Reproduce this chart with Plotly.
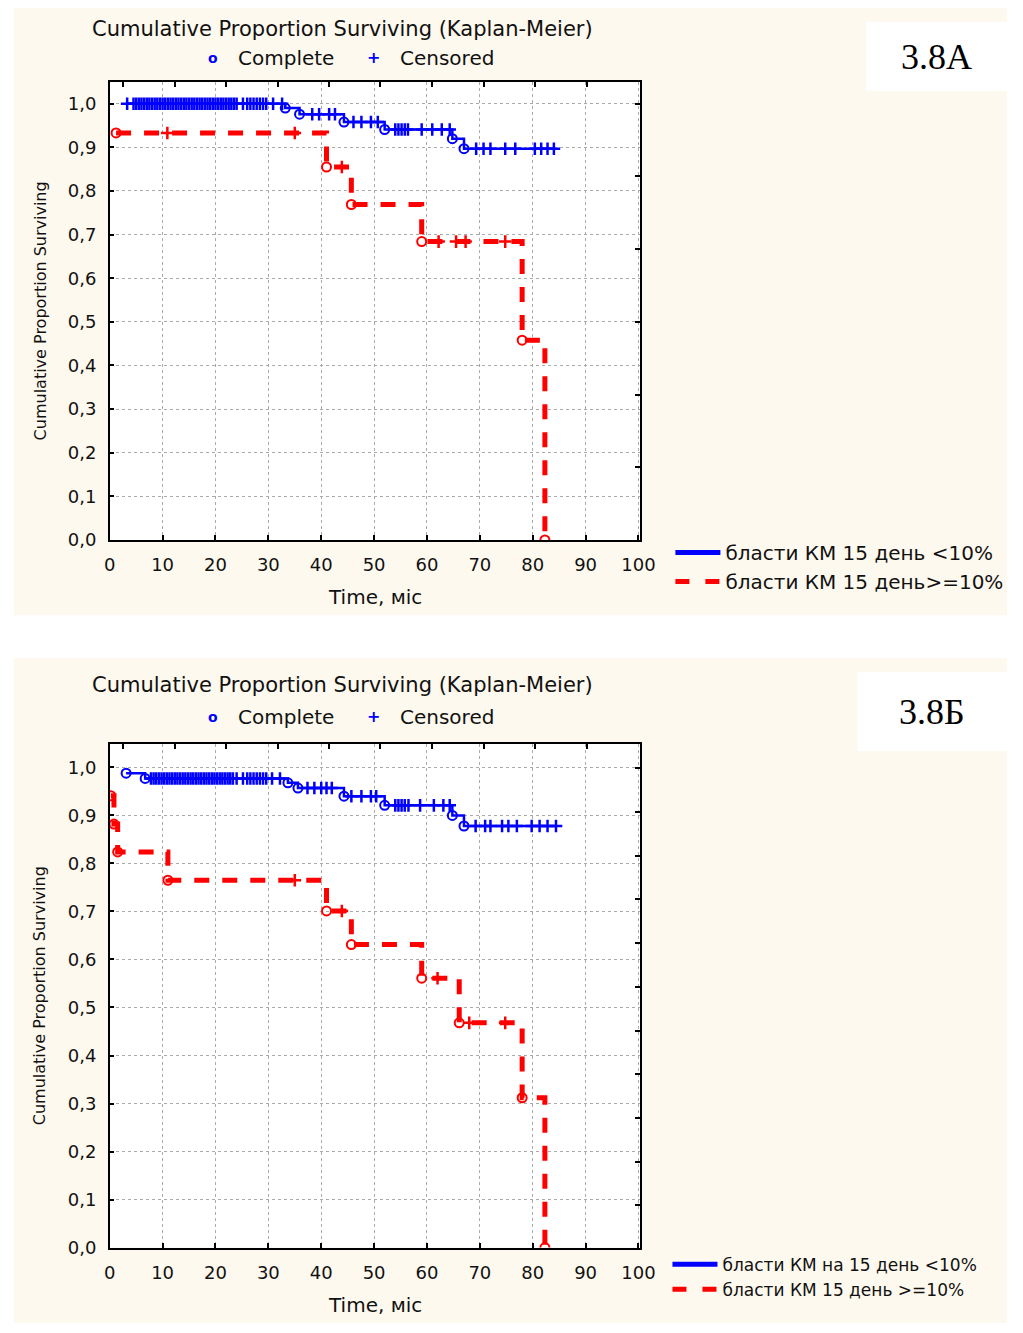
import plotly.graph_objects as go

# ---------------- Panel 3.8A ----------------
# group "бласти КМ 15 день <10%"
a_lo_first_t, a_lo_first_s = 3.2, 1.0
a_lo_event_t = [33.2, 35.9, 44.3, 52.0, 64.8, 67.0]
a_lo_event_s = [0.990, 0.976, 0.958, 0.941, 0.920, 0.897]
a_lo_cens_t = [3.3, 4.5, 5.0, 5.5, 6.0, 6.5, 7.0, 7.5, 8.0, 8.5, 9.0, 9.5, 10.0, 10.5,
               11.0, 11.5, 12.0, 12.5, 13.0, 13.5, 14.0, 14.5, 15.0, 15.5, 16.0, 16.5,
               17.0, 17.5, 18.0, 18.5, 19.0, 19.5, 20.0, 20.5, 21.0, 21.5, 22.0, 22.5,
               23.0, 23.5, 24.0, 25.2, 26.0, 26.6, 27.2, 27.8, 28.4, 29.0, 29.6, 30.9,
               32.6, 38.3, 39.6, 41.5, 42.6, 46.1, 47.6, 49.4, 50.7, 54.0, 54.6, 55.2,
               55.8, 56.4, 59.0, 61.0, 62.8, 64.3, 69.3, 70.7, 72.0, 74.8, 76.7, 80.4,
               81.6, 82.8, 84.0]
a_lo_end_t = 84.0

# group "бласти КМ 15 день>=10%"
a_hi_first_t, a_hi_first_s = 1.2, 0.933
a_hi_event_t = [1.2, 41.0, 45.7, 59.0, 78.0, 82.3]
a_hi_event_s = [0.933, 0.855, 0.769, 0.684, 0.458, 0.0]
a_hi_cens_t = [10.9, 35.0, 43.9, 62.2, 65.5, 67.3, 74.8]
a_hi_end_t = 82.3

# ---------------- Panel 3.8Б ----------------
b_lo_first_t, b_lo_first_s = 3.1, 0.988
b_lo_event_t = [3.1, 6.7, 33.7, 35.6, 44.3, 52.0, 64.8, 67.0]
b_lo_event_s = [0.988, 0.977, 0.968, 0.957, 0.940, 0.921, 0.900, 0.878]
b_lo_cens_t = [7.8, 8.3, 8.8, 9.3, 9.8, 10.3, 10.8, 11.3, 11.8, 12.3, 12.8, 13.3, 13.8,
               14.3, 14.8, 15.3, 15.8, 16.3, 16.8, 17.3, 17.8, 18.3, 18.8, 19.3, 19.8,
               20.3, 20.8, 21.3, 21.8, 22.3, 22.8, 23.3, 24.0, 25.2, 26.0, 26.6, 27.2,
               27.8, 28.4, 29.0, 29.6, 30.7, 32.2, 37.4, 38.7, 40.0, 41.0, 42.0, 45.7,
               47.6, 49.4, 50.4, 54.0, 54.6, 55.2, 55.8, 56.5, 58.7, 61.3, 63.1, 64.3,
               69.2, 71.0, 72.0, 74.2, 75.4, 77.0, 79.8, 81.3, 82.8, 84.4]
b_lo_end_t = 84.4

b_hi_first_t, b_hi_first_s = 0.2, 0.941
b_hi_event_t = [0.2, 0.8, 1.5, 11.0, 41.0, 45.7, 59.0, 66.1, 78.0, 82.3]
b_hi_event_s = [0.941, 0.882, 0.824, 0.765, 0.701, 0.631, 0.561, 0.468, 0.312, 0.0]
b_hi_cens_t = [35.0, 43.9, 62.0, 68.0, 74.8]
b_hi_end_t = 82.3

# axis ticks
x_ticks = [0, 10, 20, 30, 40, 50, 60, 70, 80, 90, 100]
y_ticks = [0.0, 0.1, 0.2, 0.3, 0.4, 0.5, 0.6, 0.7, 0.8, 0.9, 1.0]
top_minor_ticks = [2.6, 12.3, 22.0, 31.8, 41.5, 51.2, 61.0, 70.7, 80.4, 90.2]
right_minor_a = [1 / 6, 2 / 6, 3 / 6, 4 / 6, 5 / 6, 1.0]
right_minor_b = [0.089, 0.179, 0.270, 0.361, 0.452, 0.543, 0.634, 0.725, 0.816, 0.907, 0.998]

legend_a = ["бласти КМ 15 день <10%", "бласти КМ 15 день>=10%"]
legend_b = ["бласти КМ на 15 день <10%", "бласти КМ 15 день >=10%"]
panel_labels = ["3.8A", "3.8Б"]
chart_title = "Cumulative Proportion Surviving (Kaplan-Meier)"
x_title = "Time, міс"
y_title = "Cumulative Proportion Surviving"

BLUE = "#0000ff"
RED = "#ff0000"
CREAM = "#fef9ee"
FONT = "DejaVu Sans"
TXT = "#111111"
W, H = 1023, 1333


def level_at(t, first_s, ev_t, ev_s):
    s = first_s
    for et, es in zip(ev_t, ev_s):
        if et <= t:
            s = es
    return s


def km_traces(first_t, first_s, ev_t, ev_s, cens_t, end_t, color, xa, ya, solid):
    xs = [first_t] + list(ev_t) + [end_t]
    ys = [first_s] + list(ev_s) + [ev_s[-1]]
    line = dict(color=color, width=2.5) if solid else dict(color=color, width=5, dash="15px,13px")
    out = [go.Scatter(x=xs, y=ys, mode="lines", line=line, line_shape="hv",
                      xaxis=xa, yaxis=ya, showlegend=False, hoverinfo="skip")]
    out.append(go.Scatter(x=ev_t, y=ev_s, mode="markers", xaxis=xa, yaxis=ya,
                          marker=dict(symbol="circle-open", size=9, color=color,
                                      line=dict(width=2, color=color)),
                          showlegend=False, hoverinfo="skip"))
    cy = [level_at(c, first_s, ev_t, ev_s) for c in cens_t]
    out.append(go.Scatter(x=cens_t, y=cy, mode="markers", xaxis=xa, yaxis=ya,
                          marker=dict(symbol="cross-thin", size=9, color=color,
                                      line=dict(width=2.5, color=color)),
                          showlegend=False, hoverinfo="skip"))
    return out


fig = go.Figure()

for tr in km_traces(a_lo_first_t, a_lo_first_s, a_lo_event_t, a_lo_event_s, a_lo_cens_t,
                    a_lo_end_t, BLUE, "x", "y", True):
    fig.add_trace(tr)
for tr in km_traces(a_hi_first_t, a_hi_first_s, a_hi_event_t, a_hi_event_s, a_hi_cens_t,
                    a_hi_end_t, RED, "x", "y", False):
    fig.add_trace(tr)
for tr in km_traces(b_lo_first_t, b_lo_first_s, b_lo_event_t, b_lo_event_s, b_lo_cens_t,
                    b_lo_end_t, BLUE, "x2", "y2", True):
    fig.add_trace(tr)
for tr in km_traces(b_hi_first_t, b_hi_first_s, b_hi_event_t, b_hi_event_s, b_hi_cens_t,
                    b_hi_end_t, RED, "x2", "y2", False):
    fig.add_trace(tr)

# legend entries
for names, lg, xa, ya in [(legend_a, "legend", "x", "y"), (legend_b, "legend2", "x2", "y2")]:
    fig.add_trace(go.Scatter(x=[None], y=[None], mode="lines", name=names[0], legend=lg,
                             xaxis=xa, yaxis=ya, line=dict(color=BLUE, width=5)))
    fig.add_trace(go.Scatter(x=[None], y=[None], mode="lines", name=names[1], legend=lg,
                             xaxis=xa, yaxis=ya, line=dict(color=RED, width=5, dash="14px,16px")))

# carriers for the top / right tick axes
fig.add_trace(go.Scatter(x=[None], y=[None], xaxis="x3", yaxis="y3", showlegend=False))
fig.add_trace(go.Scatter(x=[None], y=[None], xaxis="x4", yaxis="y4", showlegend=False))

# pixel geometry of the two plot frames
frames = {
    "a": dict(l=106, r=648, t=83, b=544, yr=1.049),
    "b": dict(l=106, r=648, t=750, b=1257, yr=1.048),
}


def dom_x(f):
    return [f["l"] / W, f["r"] / W]


def dom_y(f):
    return [1 - f["b"] / H, 1 - f["t"] / H]


tickfont = dict(family=FONT, size=18, color=TXT)
axis_common = dict(showline=True, linecolor="#000000", linewidth=1.5, mirror=True,
                   ticks="inside", ticklen=5, tickwidth=1.5, tickcolor="#000000",
                   showgrid=True, gridcolor="#aaaaaa", griddash="dot", gridwidth=1,
                   zeroline=False, tickfont=tickfont, fixedrange=True)
minor_common = dict(showline=False, showgrid=False, zeroline=False, ticks="inside",
                    ticklen=5, tickwidth=1.5, tickcolor="#000000", showticklabels=False,
                    fixedrange=True)

fa, fb = frames["a"], frames["b"]
fig.update_layout(
    xaxis=dict(domain=dom_x(fa), range=[0, 100.3], tickvals=x_ticks, anchor="y",
               ticklabelstandoff=8, **axis_common),
    yaxis=dict(domain=dom_y(fa), range=[0, fa["yr"]], tickvals=y_ticks, tickformat=".1f",
               anchor="x", ticklabelstandoff=8, **axis_common),
    xaxis2=dict(domain=dom_x(fb), range=[0, 100.3], tickvals=x_ticks, anchor="y2",
                ticklabelstandoff=8, **axis_common),
    yaxis2=dict(domain=dom_y(fb), range=[0, fb["yr"]], tickvals=y_ticks, tickformat=".1f",
                anchor="x2", ticklabelstandoff=8, **axis_common),
    xaxis3=dict(overlaying="x", anchor="y3", side="top", range=[0, 100.3],
                tickvals=top_minor_ticks, **minor_common),
    yaxis3=dict(overlaying="y", anchor="x3", side="right", range=[0, fa["yr"]],
                tickvals=right_minor_a, **minor_common),
    xaxis4=dict(overlaying="x2", anchor="y4", side="top", range=[0, 100.3],
                tickvals=top_minor_ticks, **minor_common),
    yaxis4=dict(overlaying="y2", anchor="x4", side="right", range=[0, fb["yr"]],
                tickvals=right_minor_b, **minor_common),
)

legend_style = dict(xanchor="left", yanchor="top", bgcolor="rgba(0,0,0,0)",
                    tracegroupgap=0, itemwidth=45)
fig.update_layout(
    legend=dict(x=679 / W, y=1 - 537 / H, font=dict(family=FONT, size=20, color=TXT),
                **legend_style),
    legend2=dict(x=676 / W, y=1 - 1256 / H, font=dict(family=FONT, size=17, color=TXT),
                 **legend_style),
)

shapes = []
annotations = []
panels = [
    dict(f=fa, y0=8, y1=620, box=(879, 22, 1023, 92), label=panel_labels[0], title_y=29,
         head_y=58),
    dict(f=fb, y0=663, y1=1333, box=(870, 677, 1023, 757), label=panel_labels[1],
         title_y=690, head_y=722),
]
for i, p in enumerate(panels):
    f = p["f"]
    xr = "x domain" if i == 0 else "x2 domain"
    yr = "y domain" if i == 0 else "y2 domain"
    shapes.append(dict(type="rect", xref="paper", yref="paper", x0=8 / W, x1=1,
                       y0=1 - p["y1"] / H, y1=1 - p["y0"] / H, fillcolor=CREAM,
                       line=dict(width=0), layer="below"))
    shapes.append(dict(type="rect", xref=xr, yref=yr, x0=0, x1=1, y0=0, y1=1,
                       fillcolor="#ffffff", line=dict(width=0), layer="below"))
    bx0, by0, bx1, by1 = p["box"]
    shapes.append(dict(type="rect", xref="paper", yref="paper", x0=bx0 / W, x1=bx1 / W,
                       y0=1 - by1 / H, y1=1 - by0 / H, fillcolor="#ffffff",
                       line=dict(width=0), layer="below"))
    annotations.append(dict(text=p["label"], xref="paper", yref="paper",
                            x=(bx0 + bx1) / 2 / W, y=1 - (by0 + by1) / 2 / H,
                            showarrow=False, xanchor="center", yanchor="middle",
                            font=dict(family="Liberation Serif", size=36, color="#000000")))
    annotations.append(dict(text=chart_title, xref="paper", yref="paper", x=344 / W,
                            y=1 - p["title_y"] / H, showarrow=False, xanchor="center",
                            yanchor="middle", font=dict(family=FONT, size=21, color=TXT)))
    hy = 1 - p["head_y"] / H
    annotations.append(dict(text="<b>o</b>", xref="paper", yref="paper", x=212 / W, y=hy,
                            showarrow=False, xanchor="center", yanchor="middle",
                            font=dict(family=FONT, size=14, color=BLUE)))
    annotations.append(dict(text="Complete", xref="paper", yref="paper", x=235 / W, y=hy,
                            showarrow=False, xanchor="left", yanchor="middle",
                            font=dict(family=FONT, size=20, color=TXT)))
    annotations.append(dict(text="<b>+</b>", xref="paper", yref="paper", x=376 / W, y=hy,
                            showarrow=False, xanchor="center", yanchor="middle",
                            font=dict(family=FONT, size=16, color=BLUE)))
    annotations.append(dict(text="Censored", xref="paper", yref="paper", x=401 / W, y=hy,
                            showarrow=False, xanchor="left", yanchor="middle",
                            font=dict(family=FONT, size=20, color=TXT)))
    annotations.append(dict(text=x_title, xref="paper", yref="paper",
                            x=(f["l"] + f["r"]) / 2 / W, y=1 - (f["b"] + 58) / H,
                            showarrow=False, xanchor="center", yanchor="middle",
                            font=dict(family=FONT, size=20, color=TXT)))
    annotations.append(dict(text=y_title, xref="paper", yref="paper", x=35 / W,
                            y=1 - (f["t"] + f["b"]) / 2 / H, textangle=-90,
                            showarrow=False, xanchor="center", yanchor="middle",
                            font=dict(family=FONT, size=16, color=TXT)))

fig.update_layout(
    width=W, height=H, margin=dict(l=0, r=0, t=0, b=0),
    paper_bgcolor="#ffffff", plot_bgcolor="#ffffff",
    separators=",.", shapes=shapes, annotations=annotations,
    font=dict(family=FONT, color=TXT),
)

# page without margins or scrollbars
page_script = """
document.documentElement.style.margin='0';
document.documentElement.style.overflow='hidden';
document.body.style.margin='0';
document.body.style.padding='0';
document.body.style.overflow='hidden';
"""

fig.write_html("out.html", post_script=page_script)
